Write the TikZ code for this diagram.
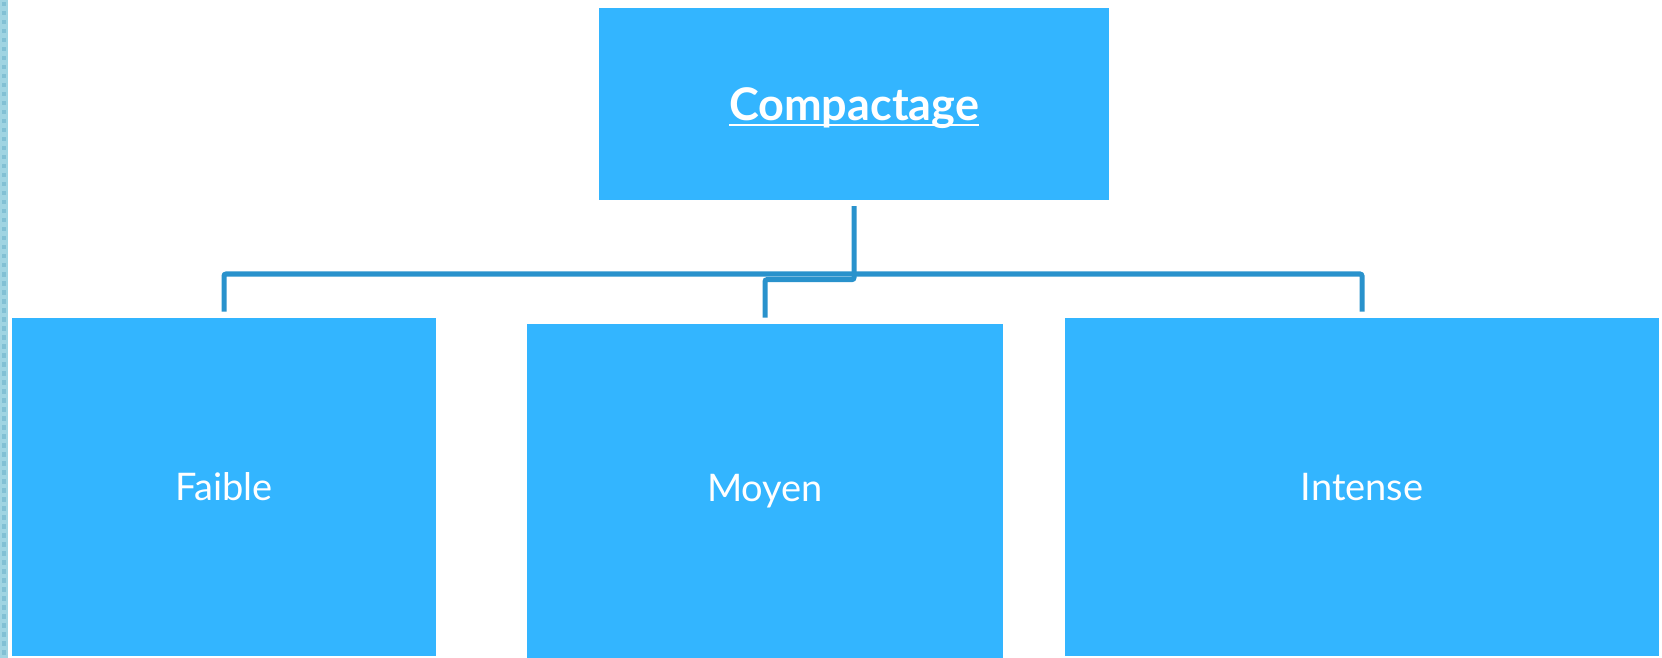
\documentclass[tikz,border=0pt]{standalone}
\usepackage{fontspec}
\setmainfont{Lato}
\usepackage{tikz}
\usetikzlibrary{calc}
\definecolor{box-blue}{RGB}{51, 181, 255}
\definecolor{link-blue}{RGB}{41, 146, 204}
\definecolor{strip-blue}{RGB}{160, 212, 226}
\definecolor{strip-dark}{RGB}{130, 192, 212}
\newcommand{\ulbar}[1]{\setbox0\hbox{#1}\rlap{\rule[-2.5pt]{\wd0}{1pt}}\box0}

\begin{document}
\begin{tikzpicture}[x = 0.5pt, y = -0.5pt,
    box/.style = {fill=box-blue, text=white, inner sep=0pt, font=\fontsize{19}{22}\selectfont},
    link/.style = {draw=link-blue, line width=2.5pt, rounded corners=1pt}]
          \useasboundingbox (0, 0) rectangle (1662, 658);

          % left strip
          \fill[strip-blue] (0, 0) rectangle (8, 658);
          \foreach \k in {0, ..., 72} {
            \fill[strip-dark] (1.5, 9*\k + 2) rectangle (6, 9*\k + 6.5);
          }

          \node[box, minimum width=255pt, minimum height=95.75pt, font=\fontsize{22.5}{26}\selectfont\bfseries]
            (compactage) at (854, 104) {\raisebox{-8.5pt}[0pt][0pt]{\ulbar{Compactage}}};
          \node[box, minimum width=212pt, minimum height=169pt] (faible) at (224, 487) {Faible};
          \node[box, minimum width=238pt, minimum height=167pt] (moyen) at (765, 491) {Moyen};
          \node[box, minimum width=297pt, minimum height=169pt] (intense) at (1362, 487) {Intense};

          \coordinate (bus) at (854, 274);

          \draw[link] ([yshift=3pt]faible.north) |- (bus) -| ([yshift=3pt]intense.north);
          \draw[link] ([yshift=-3pt]compactage.south) |- ([yshift=22pt]moyen.north) -- ([yshift=3pt]moyen.north);

        \end{tikzpicture}
\end{document}
